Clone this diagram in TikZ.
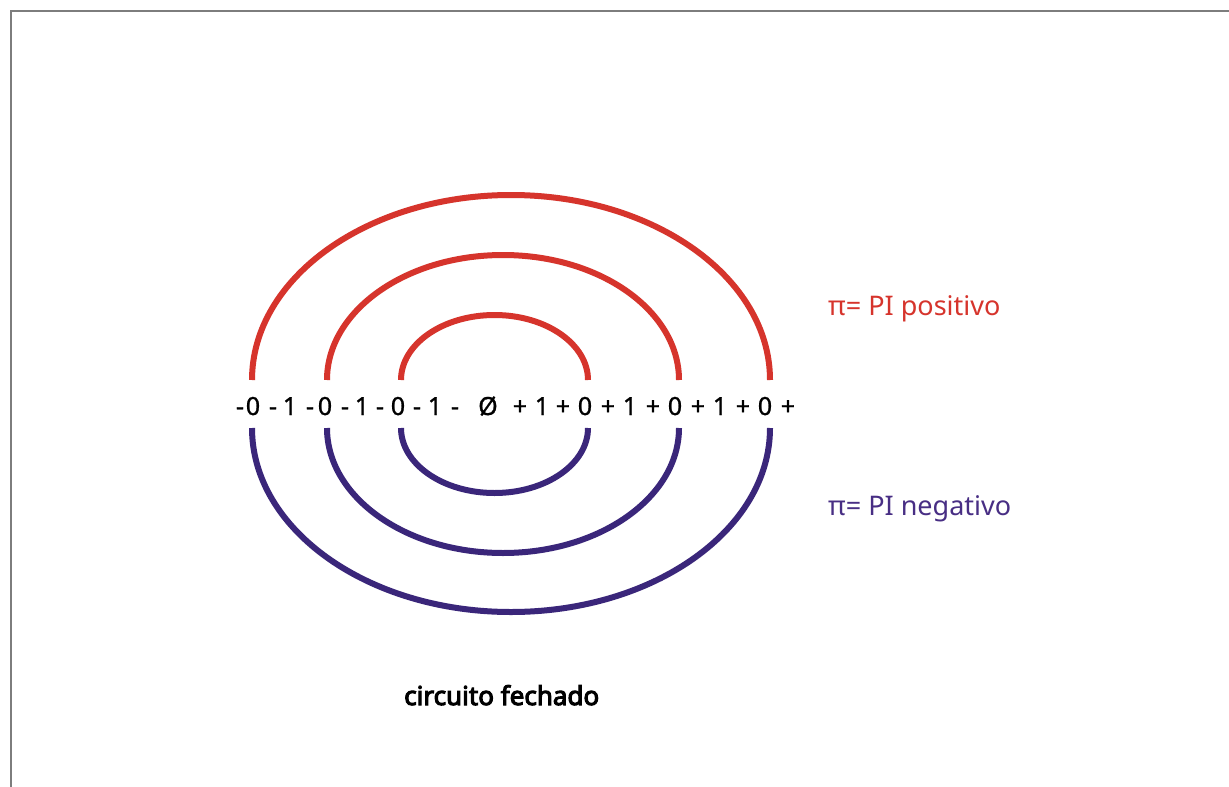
\documentclass[tikz,border=0pt]{standalone}
\usepackage{fontspec}
\setmainfont{Noto Sans}
\newfontfamily\capfont[FakeBold=4]{Noto Sans}
\newfontfamily\rowfont[FakeBold=1]{Noto Sans}
\definecolor{arcred}{RGB}{214,52,44}
\definecolor{arcblue}{RGB}{58,38,122}
\definecolor{labblue}{RGB}{72,46,132}
\definecolor{framegray}{RGB}{125,125,125}
\begin{document}
\begin{tikzpicture}[x=1pt,y=-1pt,
  tok/.style={anchor=base,inner sep=0pt,font=\fontsize{25}{30}\rowfont},
  redarc/.style={draw=arcred,line width=6pt},
  bluearc/.style={draw=arcblue,line width=6pt},
  lab/.style={anchor=base west,inner sep=0pt,font=\fontsize{27}{30}\selectfont}]
\useasboundingbox[fill=white] (0,0) rectangle (1229,787);
\draw[framegray,line width=2pt] (10.5,787) |- (1229,10.5);
% red arcs
\coordinate (r1) at (401,380);
\coordinate (r2) at (327,380);
\coordinate (r3) at (252,380);
\draw[redarc] (r1) arc[start angle=180,end angle=360,x radius=93.5,y radius=65];
\draw[redarc] (r2) arc[start angle=180,end angle=360,x radius=176,y radius=125];
\draw[redarc] (r3) arc[start angle=180,end angle=360,x radius=259,y radius=185];
% blue arcs
\coordinate (b1) at (401,428);
\coordinate (b2) at (327,428);
\coordinate (b3) at (252,428);
\draw[bluearc] (b1) arc[start angle=180,end angle=0,x radius=93.5,y radius=65];
\draw[bluearc] (b2) arc[start angle=180,end angle=0,x radius=176,y radius=125];
\draw[bluearc] (b3) arc[start angle=180,end angle=0,x radius=259,y radius=184];
% number row
\foreach \x/\c [count=\i] in {240/-,253/0,273/-,290/1,310/-,325/0,345/-,362/1,380/-,398/0,417/-,435/1,455/-,488/Ø,520/+,542/1,563/+,585/0,608/+,630/1,653/+,675/0,698/+,720/1,743/+,765/0,788/+}
  \node[tok] (t\i) at (\x,415) {\c};
% labels
\node[lab,text=arcred] (pos) at (828,315) {π= PI positivo};
\node[lab,text=labblue] (neg) at (828,515) {π= PI negativo};
\node[anchor=base west,inner sep=0pt,font=\fontsize{26}{28}\capfont] (cap) at (404,705) {circuito fechado};
\end{tikzpicture}
\end{document}
